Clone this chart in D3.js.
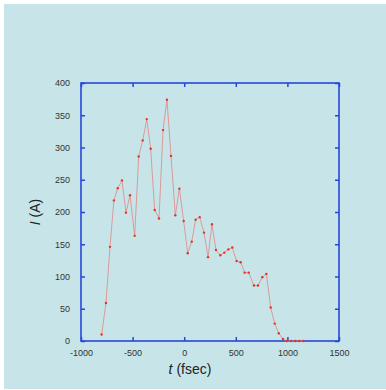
<!DOCTYPE html>
<html>
<head>
<meta charset="utf-8">
<script src="https://cdn.jsdelivr.net/npm/d3@7"></script>
<style>
  body { margin: 0; background: #fff; }
  svg { display: block; }
</style>
</head>
<body>
<script>
// values
const times = [-800, -758, -719, -681, -644, -603, -564, -525, -480, -441, -402, -363, -325,
  -286, -244, -205, -167, -128, -86, -47, -5, 34, 73, 111, 150, 192, 231, 269, 308, 350,
  389, 428, 466, 508, 547, 586, 625, 676, 715, 757, 796, 838, 877, 916, 957, 996, 1035,
  1077, 1116, 1154]
const currents = [10, 59, 146, 218, 237, 249, 199, 226, 163, 286, 311, 344, 298,
  203, 190, 327, 374, 287, 195, 236, 186, 136, 154, 188, 192, 168, 130, 181, 141, 133,
  137, 142, 145, 124, 122, 106, 106, 86, 86, 99, 104, 52, 27, 12, 3, 0, 0,
  0, 0, 0]
const xTicks = [-1000, -500, 0, 500, 1000, 1500]
const yTicks = [0, 50, 100, 150, 200, 250, 300, 350, 400]

const w = 386
const h = 390
const margin = {left: 81, top: 83, right: 47, bottom: 49}
const blue = '#2747d8'

const data = times.map((t, i) => ({t: t, i: currents[i]}))

const svg = d3.select('body')
    .append('svg')
    .attr('width', w)
    .attr('height', h)

svg.append('rect')
    .attr('x', 4)
    .attr('y', 4)
    .attr('width', w - 4)
    .attr('height', h - 5)
    .attr('fill', '#c7e5e8')

const x = d3.scaleLinear()
    .domain([-1000, 1500])
    .range([margin.left, w - margin.right])

const y = d3.scaleLinear()
    .domain([0, 400])
    .range([h - margin.bottom, margin.top])

const font = 'Liberation Sans, Arial, sans-serif'
const plain = d => String(d)

// axes with inward ticks on all four sides
const axes = [
    {ax: d3.axisBottom(x).tickValues(xTicks).tickFormat(plain).tickSize(-4).tickPadding(9), tr: `translate(0,${y(0)})`, labels: true},
    {ax: d3.axisTop(x).tickValues(xTicks).tickSize(-4), tr: `translate(0,${y(400)})`, labels: false},
    {ax: d3.axisLeft(y).tickValues(yTicks).tickFormat(plain).tickSize(-4).tickPadding(11), tr: `translate(${x(-1000)},0)`, labels: true},
    {ax: d3.axisRight(y).tickValues(yTicks).tickSize(-4), tr: `translate(${x(1500)},0)`, labels: false}
]

axes.forEach(a => {
    const g = svg.append('g')
        .attr('transform', a.tr)
        .call(a.ax)
    g.select('.domain').remove()
    g.selectAll('.tick line')
        .attr('stroke', blue)
        .attr('stroke-width', 1.5)
    g.selectAll('.tick text')
        .attr('fill', '#333')
        .style('font-family', font)
        .style('font-size', '9px')
    if (!a.labels) g.selectAll('.tick text').remove()
})

svg.append('rect')
    .attr('x', x(-1000))
    .attr('y', y(400))
    .attr('width', x(1500) - x(-1000))
    .attr('height', y(0) - y(400))
    .attr('fill', 'none')
    .attr('stroke', blue)
    .attr('stroke-width', 1.6)

const line = d3.line()
    .x(d => x(d.t))
    .y(d => y(d.i))

svg.append('path')
    .datum(data)
    .attr('d', line)
    .attr('fill', 'none')
    .attr('stroke', '#e08080')
    .attr('stroke-opacity', 0.75)
    .attr('stroke-width', 1)

svg.selectAll('circle')
    .data(data)
    .enter()
    .append('circle')
    .attr('cx', d => x(d.t))
    .attr('cy', d => y(d.i))
    .attr('r', 1.2)
    .attr('fill', '#e8341f')

// axis titles
const xt = svg.append('text')
    .attr('x', 190)
    .attr('y', 374)
    .attr('text-anchor', 'middle')
    .style('font-family', font)
    .style('font-size', '14px')
    .attr('fill', '#222')
xt.append('tspan').style('font-style', 'italic').text('t')
xt.append('tspan').text(' (fsec)')

const yt = svg.append('text')
    .attr('transform', 'translate(40,212) rotate(-90)')
    .attr('text-anchor', 'middle')
    .style('font-family', font)
    .style('font-size', '14px')
    .attr('fill', '#222')
yt.append('tspan').style('font-style', 'italic').text('I')
yt.append('tspan').text(' (A)')
</script>
</body>
</html>
